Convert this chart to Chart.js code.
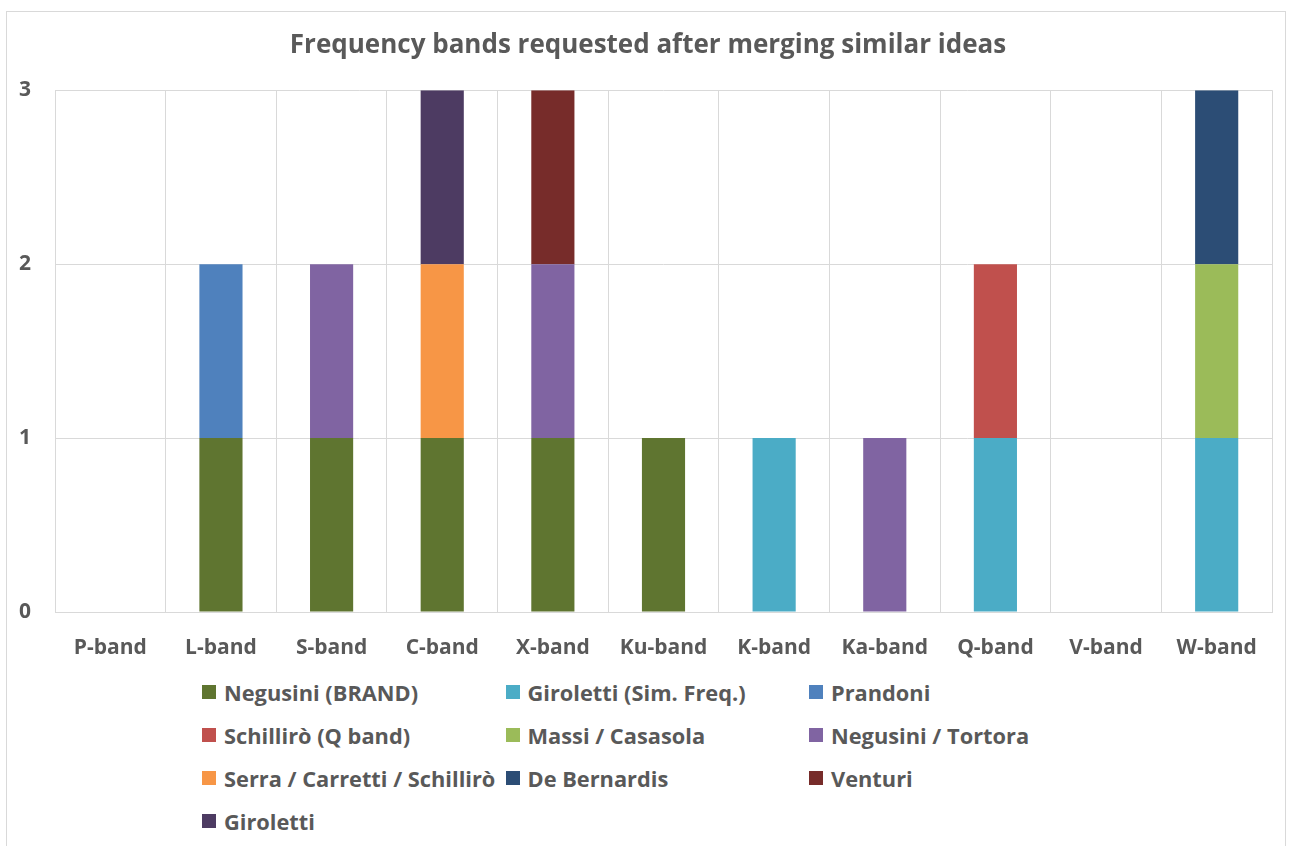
<!DOCTYPE html>
<html>
<head>
<meta charset="utf-8">
<script src="https://cdn.jsdelivr.net/npm/chart.js@4.4.0/dist/chart.umd.min.js"></script>
<style>
    body { margin: 0; background: #fff; width: 1292px; height: 846px; overflow: hidden; position: relative; }
    #frame { position: absolute; left: 6px; top: 11px; width: 1280px; height: 900px; border: 1px solid #d9d9d9; box-sizing: border-box; }
    #chartBox { position: absolute; left: 0; top: 0; width: 1296px; height: 670px; }
    #legend { position: absolute; left: 202px; top: 677px; font-family: "Open Sans", sans-serif; font-weight: bold; font-size: 21.8px; color: #595959; }
    .item { position: absolute; white-space: nowrap; display: flex; align-items: center; height: 30px; }
    .box { width: 14px; height: 14px; margin-right: 8px; }
</style>
</head>
<body>
<div id="frame"></div>
<div id="chartBox"><canvas id="myChart"></canvas></div>
<div id="legend"></div>
<script>
    // Categories and series
    const bands = ['P-band', 'L-band', 'S-band', 'C-band', 'X-band', 'Ku-band', 'K-band', 'Ka-band', 'Q-band', 'V-band', 'W-band']
    const yTicks = [0, 1, 2, 3]

    const negusiniBrand = [0, 1, 1, 1, 1, 1, 0, 0, 0, 0, 0]
    const giroSimFreq = [0, 0, 0, 0, 0, 0, 1, 0, 1, 0, 1]
    const prandoni = [0, 1, 0, 0, 0, 0, 0, 0, 0, 0, 0]
    const schilliroQ = [0, 0, 0, 0, 0, 0, 0, 0, 1, 0, 0]
    const massiCasasola = [0, 0, 0, 0, 0, 0, 0, 0, 0, 0, 1]
    const negusiniTortora = [0, 0, 1, 0, 1, 0, 0, 1, 0, 0, 0]
    const serraCarretti = [0, 0, 0, 1, 0, 0, 0, 0, 0, 0, 0]
    const deBernardis = [0, 0, 0, 0, 0, 0, 0, 0, 0, 0, 1]
    const venturi = [0, 0, 0, 0, 1, 0, 0, 0, 0, 0, 0]
    const giroletti = [0, 0, 0, 1, 0, 0, 0, 0, 0, 0, 0]

    const seriesNames = ['Negusini (BRAND)', 'Giroletti (Sim. Freq.)', 'Prandoni', 'Schillirò (Q band)', 'Massi / Casasola',
        'Negusini / Tortora', 'Serra / Carretti / Schillirò', 'De Bernardis', 'Venturi', 'Giroletti']
    const seriesValues = [negusiniBrand, giroSimFreq, prandoni, schilliroQ, massiCasasola,
        negusiniTortora, serraCarretti, deBernardis, venturi, giroletti]
    const seriesColors = ['#5f7530', '#4bacc6', '#4f81bd', '#c0504d', '#9bbb59',
        '#8064a2', '#f79646', '#2c4d75', '#772c2a', '#4d3b62']

    const FONT = '"Open Sans", sans-serif'
    const GREY = '#595959'
    const GRID = '#d9d9d9'

    let datasets = seriesNames.map(function (name, i) {
        return {
            label: name,
            data: seriesValues[i],
            backgroundColor: seriesColors[i],
            borderWidth: 0,
            categoryPercentage: 1,
            barPercentage: 0.39
        }
    })

    let ctx = document.getElementById('myChart')
    let myChart = new Chart(ctx, {
        type: 'bar',
        data: { labels: bands, datasets: datasets },
        options: {
            responsive: true,
            maintainAspectRatio: false,
            animation: false,
            layout: { padding: 0 },
            plugins: {
                legend: { display: false },
                tooltip: { enabled: false },
                title: {
                    display: true,
                    text: 'Frequency bands requested after merging similar ideas',
                    color: GREY,
                    font: { family: FONT, size: 26, weight: 'bold' },
                    padding: { top: 30, bottom: 29 }
                }
            },
            scales: {
                x: {
                    stacked: true,
                    offset: true,
                    grid: { color: GRID, offset: true, drawTicks: false },
                    border: { color: GRID },
                    ticks: { color: GREY, padding: 23, font: { family: FONT, size: 21, weight: 'bold' } },
                    afterFit: function (scale) { scale.height = 58 }
                },
                y: {
                    stacked: true,
                    min: 0,
                    max: 3,
                    afterBuildTicks: function (scale) { scale.ticks = yTicks.map(v => ({ value: v })) },
                    grid: { color: GRID, drawTicks: false },
                    border: { display: false },
                    ticks: { color: GREY, padding: 24, font: { family: FONT, size: 21, weight: 'bold' } },
                    afterFit: function (scale) { scale.width = 55 }
                },
                // empty right axis: just a gutter so the title centres like the original
                yRight: {
                    position: 'right',
                    min: 0,
                    max: 3,
                    grid: { display: false },
                    border: { display: false },
                    ticks: { display: false },
                    afterFit: function (scale) { scale.width = 24 }
                }
            }
        }
    })

    // HTML legend laid out in a 3-column grid
    let legendDiv = document.getElementById('legend')
    seriesNames.forEach(function (name, i) {
        let item = document.createElement('div')
        item.className = 'item'
        item.style.left = (i % 3) * 303.5 + 'px'
        item.style.top = Math.floor(i / 3) * 43 + 'px'
        let box = document.createElement('span')
        box.className = 'box'
        box.style.background = seriesColors[i]
        let txt = document.createElement('span')
        txt.textContent = name
        item.appendChild(box)
        item.appendChild(txt)
        legendDiv.appendChild(item)
    })
</script>
</body>
</html>
